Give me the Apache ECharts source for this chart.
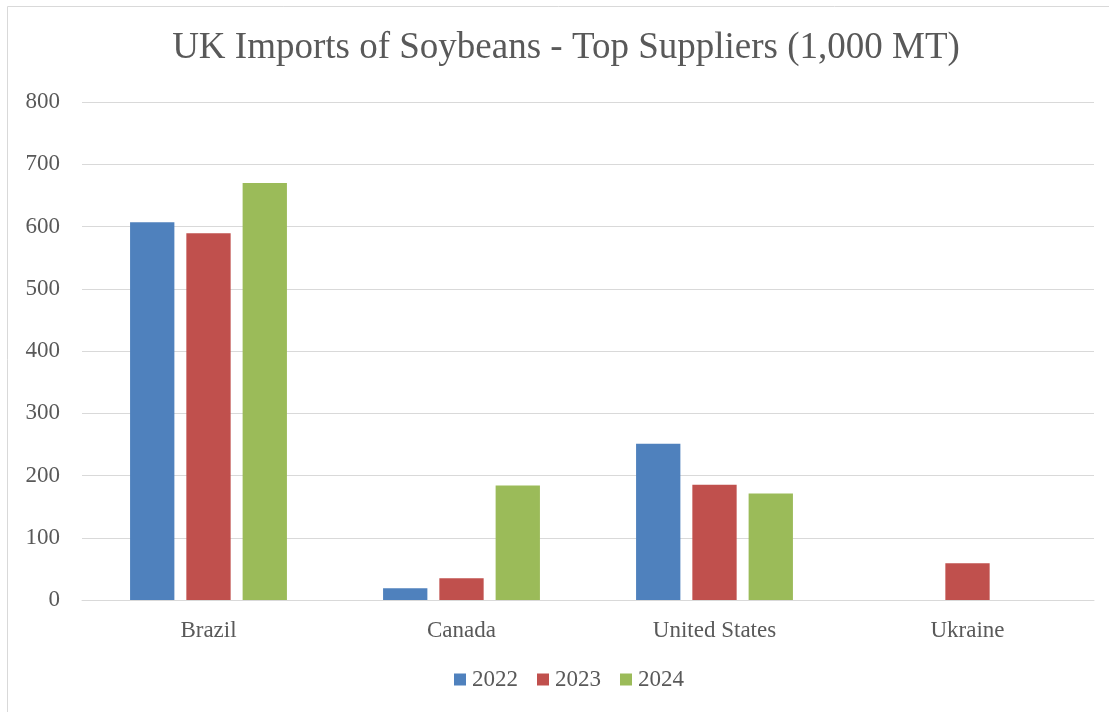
<!DOCTYPE html>
<html>
<head>
<meta charset="utf-8">
<script src="https://cdn.jsdelivr.net/npm/echarts@6/dist/echarts.min.js"></script>
<style>
  html, body { margin: 0; padding: 0; background: #fff; }
  #chart { width: 1109px; height: 712px; }
</style>
</head>
<body>
<div id="chart"></div>
<script>
// UK soybean imports by supplier, thousand metric tons
const suppliers = ['Brazil', 'Canada', 'United States', 'Ukraine'];
const years = ['2022', '2023', '2024'];
const imports2022 = [607, 19, 251, null];
const imports2023 = [589, 35, 185, 59];
const imports2024 = [670, 184, 171, null];
const yTicks = { min: 0, max: 800, interval: 100 };

const colors = ['#4F81BD', '#C0504D', '#9BBB59'];
const serif = '"Liberation Serif", "Times New Roman", serif';
const textGray = '#595959';

const chart = echarts.init(document.getElementById('chart'));

const seriesData = [imports2022, imports2023, imports2024];

chart.setOption({
  animation: false,
  color: colors,
  textStyle: { fontFamily: serif },
  graphic: [{
    type: 'rect',
    shape: { x: 7.5, y: 6.5, width: 1200, height: 800 },
    style: { fill: 'none', stroke: '#D9D9D9', lineWidth: 1 },
    silent: true
  }],
  title: {
    text: 'UK Imports of Soybeans - Top Suppliers (1,000 MT)',
    left: 561,
    textAlign: 'center',
    top: 25,
    textStyle: { fontFamily: serif, fontSize: 37, fontWeight: 'normal', color: textGray }
  },
  legend: {
    data: years,
    bottom: 16,
    left: 449,
    itemWidth: 12,
    itemHeight: 12,
    itemGap: 19,
    icon: 'rect',
    textStyle: { fontFamily: serif, fontSize: 23, color: textGray, padding: [0, 0, 0, 1] }
  },
  grid: { left: 82, right: 15, top: 102, bottom: 112, containLabel: false },
  xAxis: {
    type: 'category',
    data: suppliers,
    axisLine: { lineStyle: { color: '#D9D9D9', width: 1 } },
    axisTick: { show: false },
    axisLabel: { fontFamily: serif, fontSize: 23, color: textGray, margin: 19 }
  },
  yAxis: {
    type: 'value',
    min: yTicks.min,
    max: yTicks.max,
    interval: yTicks.interval,
    axisLine: { show: false },
    axisTick: { show: false },
    splitLine: { lineStyle: { color: '#D9D9D9', width: 1 } },
    axisLabel: { fontFamily: serif, fontSize: 23, color: textGray, margin: 22 }
  },
  series: years.map((y, i) => ({
    name: y,
    type: 'bar',
    data: seriesData[i],
    barGap: '27%',
    barCategoryGap: '38%'
  }))
});
</script>
</body>
</html>
